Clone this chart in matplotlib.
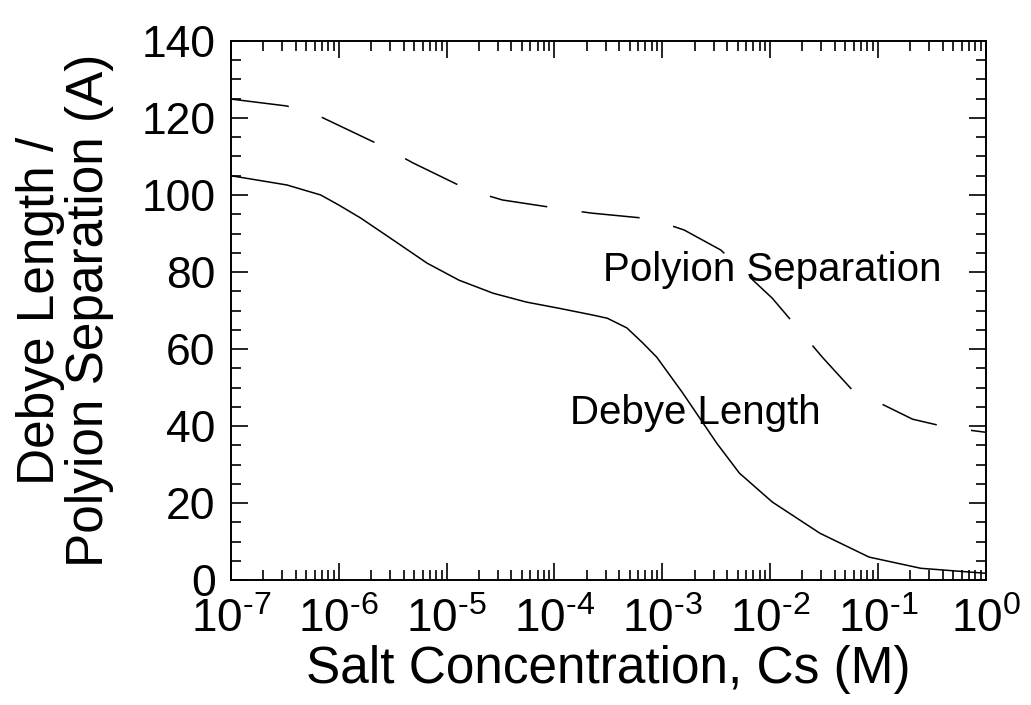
import matplotlib.pyplot as plt
from matplotlib.ticker import FixedLocator, LogLocator, NullFormatter

plt.rcParams['font.family'] = ['Liberation Sans', 'DejaVu Sans']
plt.rcParams['mathtext.default'] = 'regular'
plt.rcParams['lines.scale_dashes'] = False

# Debye length vs salt concentration
debye_cs = [1e-7, 3.3e-7, 6.8e-7, 1.0e-6, 1.6e-6, 3.2e-6, 6.6e-6, 1.3e-5, 2.7e-5,
            5.5e-5, 1.1e-4, 2.3e-4, 3.1e-4, 4.7e-4, 6.6e-4, 8.9e-4, 1.55e-3,
            3.2e-3, 5.2e-3, 1.05e-2, 2.9e-2, 8.3e-2, 2.5e-1, 1.0]
debye_len = [105.0, 102.6, 100.0, 97.4, 94.0, 88.3, 82.3, 77.9, 74.5,
             72.2, 70.6, 68.8, 68.0, 65.5, 61.6, 57.9, 48.6,
             35.6, 27.8, 20.3, 12.2, 6.0, 3.1, 1.8]

# Polyion separation vs salt concentration
sep_cs = [1e-7, 3.3e-7, 6.8e-7, 2.4e-6, 4.9e-6, 1.6e-5, 3.3e-5, 1.15e-4, 2.2e-4,
          7.9e-4, 1.6e-3, 3.5e-3, 1.05e-2, 3.1e-2, 5.7e-2, 2.1e-1, 4.4e-1, 1.0]
sep_len = [124.9, 123.1, 120.3, 113.0, 108.3, 101.3, 98.7, 96.4, 95.3,
           93.8, 90.9, 85.7, 73.2, 57.7, 49.6, 41.8, 39.7, 38.4]

xtick_pos = [1e-7, 1e-6, 1e-5, 1e-4, 1e-3, 1e-2, 1e-1, 1]
xtick_lab = ['10$^{\u2010' + e + '}$' for e in ['7', '6', '5', '4', '3', '2', '1']] + ['10$^{0}$']

fig = plt.figure(figsize=(10.31, 7.05), dpi=100)
ax = fig.add_axes([0.224, 0.177, 0.732, 0.765])

ax.plot(debye_cs, debye_len, color='black', lw=1.1)
ax.plot(sep_cs, sep_len, color='black', lw=1.1, linestyle=(0, (42, 25)))

ax.set_xscale('log')
ax.set_xlim(1e-7, 1)
ax.set_ylim(0, 140)

ax.xaxis.set_major_locator(FixedLocator(xtick_pos))
ax.xaxis.set_minor_locator(LogLocator(base=10, subs=range(2, 10), numticks=20))
ax.xaxis.set_minor_formatter(NullFormatter())
ax.set_xticklabels(xtick_lab)
ax.set_yticks(range(0, 141, 20))
ax.set_yticks(range(0, 141, 5), minor=True)

ax.tick_params(which='both', direction='in', top=True, right=True, width=1.2)
ax.tick_params(which='major', length=12)
ax.tick_params(which='minor', length=7)
ax.tick_params(axis='y', labelsize=32, pad=11)
ax.tick_params(axis='x', labelsize=33, pad=13)
for s in ax.spines.values():
    s.set_linewidth(1.4)

ax.set_xlabel('Salt Concentration, Cs (M)', fontsize=37, labelpad=2)
ax.set_ylabel('Debye Length /\nPolyion Separation (A)', fontsize=37,
              linespacing=1.0, labelpad=20)

ax.text(2.8e-4, 80.5, 'Polyion Separation', fontsize=29, va='center')
ax.text(1.4e-4, 43.5, 'Debye Length', fontsize=29, va='center')

fig.savefig('out.png', dpi=100)
